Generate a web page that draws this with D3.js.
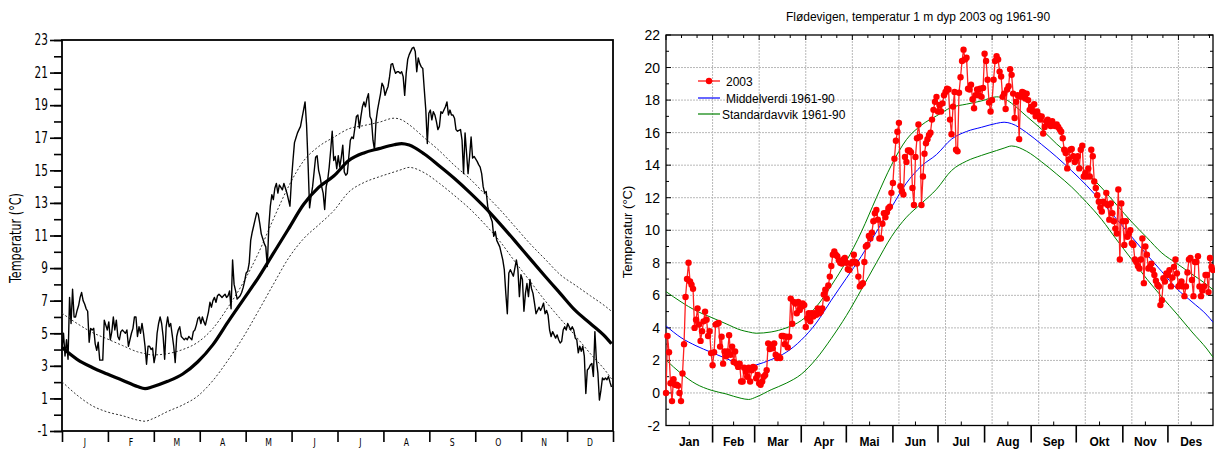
<!DOCTYPE html>
<html>
<head>
<meta charset="utf-8">
<script src="https://cdn.jsdelivr.net/npm/d3@7"></script>
<style>
  html, body { margin: 0; padding: 0; background: #fff; }
  svg { display: block; }
</style>
</head>
<body>
<svg id="chart" width="1215" height="450"></svg>
<script>
// ---- climatology 1961-90 (day 0 = 1 January) ----
const climDay = [0,10,20,30,40,50,55,60,70,80,90,100,110,120,130,140,150,160,170,180,
  190,200,210,220,225,230,240,250,260,270,280,290,300,310,320,330,340,350,360,364];
const climMean = [4.12,3.4,2.9,2.5,2.12,1.73,1.6,1.72,2.05,2.5,3.25,4.3,5.7,7.05,8.4,9.9,11.4,12.9,13.95,14.65,
  15.6,16.07,16.33,16.57,16.64,16.55,16.0,15.27,14.5,13.65,12.74,11.73,10.67,9.58,8.5,7.45,6.4,5.6,4.78,4.35];
const climUpper = [6.23,5.6,5.05,4.65,4.25,3.86,3.75,3.67,3.75,4.0,4.45,5.3,6.6,8.1,9.9,12.0,14.0,15.57,16.46,17.03,
  17.55,17.75,17.95,18.2,18.1,17.8,17.0,16.2,15.3,14.5,13.55,12.6,11.55,10.5,9.55,8.6,7.95,7.3,6.65,6.35];
const climLower = [2.03,1.2,0.55,0.17,-0.06,-0.33,-0.4,-0.25,0.2,0.6,1.15,2.1,3.35,4.75,6.35,8.0,9.6,10.8,11.65,12.52,
  13.67,14.25,14.6,14.9,15.05,15.18,14.85,14.2,13.45,12.65,11.7,10.65,9.4,8.2,7.0,5.9,4.85,3.75,2.7,2.2];

// ---- daily temperatures, left diagram (1 Jan .. 31 Dec) ----
const dailyLeft = [
  4.0,5.0,3.6,4.6,3.4,7.2,5.6,7.7,6.0,6.0,
  6.4,6.7,7.2,7.5,7.0,6.8,6.5,6.35,4.45,5.3,
  5.2,5.3,4.35,3.95,4.45,3.35,3.35,3.35,5.8,5.5,
  5.2,5.7,4.6,5.1,6.0,5.2,5.8,4.8,4.6,5.1,
  5.2,5.1,5.0,5.2,4.2,4.6,5.0,5.3,6.0,6.0,
  4.8,5.4,5.0,5.6,5.0,4.2,3.1,4.2,4.2,4.0,
  4.1,3.2,3.7,5.0,5.6,6.0,5.6,4.8,3.4,5.4,
  6.0,5.4,5.6,4.9,4.2,3.2,4.8,5.2,5.4,4.8,
  4.7,4.6,4.7,4.6,4.8,4.7,4.6,5.1,5.2,5.5,
  5.9,6.0,5.6,6.0,5.7,5.5,5.9,6.3,6.9,6.6,
  7.0,7.2,6.9,7.3,7.4,7.3,7.2,7.3,7.4,7.2,
  7.3,7.6,6.5,9.5,8.0,7.6,7.1,7.2,7.3,7.5,
  7.8,8.2,8.7,8.8,9.3,10.7,11.2,11.6,12.0,12.4,
  12.3,11.75,11.1,10.8,10.5,10.3,9.1,11.55,12.8,13.5,
  13.2,13.9,14.2,13.6,14.1,13.95,13.8,14.2,13.9,13.6,
  13.2,12.8,14.4,15.6,16.7,17.0,17.3,17.5,17.7,18.2,
  18.7,19.2,17.8,15.4,12.7,13.4,14.0,14.9,15.8,15.9,
  15.0,14.6,14.0,13.6,12.6,14.0,14.4,15.2,16.25,17.4,
  15.6,15.85,15.1,15.9,15.2,15.8,16.55,14.9,14.7,14.8,
  15.85,16.85,17.05,16.95,17.6,18.3,18.4,17.6,18.3,18.9,
  19.2,18.9,19.4,19.7,18.3,18.1,16.85,16.25,18.0,18.7,
  19.2,19.7,20.35,20.15,19.6,19.9,20.15,20.75,21.5,21.55,
  21.2,20.95,21.05,21.05,20.95,21.05,20.75,19.6,20.95,21.8,
  22.1,22.3,22.5,22.55,22.3,21.05,21.9,21.55,21.35,21.25,
  19.95,18.7,16.65,18.5,18.7,18.1,18.6,18.4,18.0,17.5,
  17.7,18.6,18.5,18.7,18.9,19.2,18.4,18.7,18.4,18.4,
  18.2,17.5,17.4,17.45,17.5,16.85,14.8,17.3,16.05,14.8,
  15.85,17.05,15.75,15.85,15.7,15.55,15.35,15.2,14.8,14.0,
  13.6,13.7,12.8,12.35,12.1,11.85,10.95,11.25,10.7,10.5,
  10.3,9.9,9.5,8.9,7.45,6.2,8.7,8.9,8.7,8.5,
  9.0,9.5,8.9,7.25,8.6,8.3,6.35,7.45,8.05,7.25,
  8.3,7.75,7.45,6.85,6.2,6.4,6.6,6.4,6.6,6.85,
  6.2,6.4,6.1,5.2,4.8,5.1,4.9,4.7,4.9,4.6,
  4.4,4.5,5.2,5.4,5.2,5.6,5.4,5.2,5.4,5.2,
  4.7,4.6,3.8,4.2,3.9,4.2,3.6,1.3,2.75,2.85,
  3.05,3.15,2.35,5.1,3.35,2.55,0.9,1.5,2.25,2.15,
  2.25,2.15,2.35,2.0,1.7
];

// ---- daily temperatures 2003, 1 m depth (1 Jan .. 31 Dec) ----
const temp2003 = [
  0,3.5,2.5,0.6,-0.5,0.85,0.5,0.5,0.45,0.0,
  -0.5,1.2,3.0,5.9,7.0,8.0,6.85,6.65,6.4,4.0,
  4.5,5.2,4.2,3.2,3.8,4.4,5.0,4.5,3.5,3.8,
  2.45,1.7,2.5,4.2,4.25,4.3,2.85,3.45,1.8,2.55,
  2.25,2.55,3.55,2.35,2.85,1.9,2.55,1.8,1.6,1.8,
  0.7,0.7,1.55,1.3,1.0,1.55,0.7,1.4,1.6,1.55,
  0.9,1.1,0.6,0.5,0.7,1.0,1.1,1.4,3.05,2.7,
  2.95,2.75,3.05,2.35,2.15,2.25,2.15,3.5,3.5,3.0,
  3.45,2.8,3.45,5.8,4.25,5.6,5.5,4.9,5.6,5.1,
  5.3,5.5,5.4,4.05,4.6,4.9,4.4,4.9,4.7,4.9,
  4.8,5.2,4.9,5.0,5.2,6.05,6.35,5.8,6.6,7.15,
  7.8,8.5,8.7,8.5,8.4,8.15,8.0,7.95,8.2,8.3,
  8.0,7.6,7.55,7.95,8.05,8.5,8.05,7.95,7.15,6.55,
  6.65,6.75,8.05,9.0,9.1,9.65,9.5,9.85,10.55,11.05,
  11.25,10.65,9.5,9.5,10.4,11.05,10.8,11.1,11.35,11.45,
  12.3,12.9,14.4,15.5,16.05,16.6,12.7,12.4,12.2,14.5,
  14.2,14.9,14.9,14.8,12.6,11.55,14.5,15.65,16.5,15.75,
  11.55,13.3,14.7,15.35,15.6,15.85,16.0,16.8,17.4,17.9,
  18.2,17.3,17.7,17.3,17.8,18.3,18.5,18.7,18.65,16.8,
  15.9,17.6,18.5,14.95,14.85,18.45,19.4,20.4,21.1,20.5,
  20.6,18.7,18.65,18.95,18.05,17.5,18.3,18.65,18.3,18.7,
  18.2,18.75,20.85,20.4,19.25,17.85,17.3,18.0,19.25,20.4,
  20.7,20.5,19.75,19.45,18.2,18.4,17.45,18.65,18.85,19.9,
  19.55,18.4,16.9,17.9,18.3,15.6,18.2,18.5,18.45,18.1,
  18.4,18.0,17.4,17.6,17.3,17.75,17.0,17.3,17.05,16.8,
  17.0,15.95,16.35,16.7,16.8,16.5,16.4,16.7,16.45,16.4,
  16.5,16.35,16.2,16.05,15.65,14.95,14.75,13.8,14.35,14.95,
  15.0,14.55,14.2,14.4,14.55,13.8,14.95,15.2,13.3,13.5,
  13.3,13.8,13.3,14.95,14.55,13.0,12.6,12.15,11.75,11.4,
  11.15,11.75,11.65,12.3,11.55,10.65,11.65,11.05,10.55,10.1,
  9.8,12.5,8.2,11.65,10.55,9.1,10.55,9.6,9.8,10.0,
  9.2,9.1,8.2,8.05,7.8,7.65,8.2,9.5,6.75,9.0,
  8.5,7.65,7.75,7.95,7.55,7.25,6.9,6.65,6.55,5.4,
  5.7,7.05,6.85,7.35,7.25,7.55,6.55,7.1,7.75,8.2,
  7.35,6.55,6.65,6.85,6.55,5.95,6.55,7.4,8.2,8.3,
  6.95,5.95,8.05,8.05,8.4,6.55,5.95,6.3,6.55,7.25,
  7.25,6.2,8.3,7.75,7.55
];

// ---- axis labels ----
const monthStart = [0,31,59,90,120,151,181,212,243,273,304,334,365];
const monthNames = ["Jan","Feb","Mar","Apr","Mai","Jun","Jul","Aug","Sep","Okt","Nov","Des"];
const monthInitials = ["J","F","M","A","M","J","J","A","S","O","N","D"];
const yTicksLeft = [-1,1,3,5,7,9,11,13,15,17,19,21,23];
const yTicksRight = [-2,0,2,4,6,8,10,12,14,16,18,20,22];
const titleRight = "Flødevigen, temperatur 1 m dyp 2003 og 1961-90";
const axisTitle = "Temperatur (°C)";
const legendItems = ["2003", "Middelverdi 1961-90", "Standardavvik 1961-90"];

const svg = d3.select("#chart");
const narrow = "'DejaVu Sans Condensed','Liberation Sans Narrow','Liberation Sans',sans-serif";
const sans = "'Liberation Sans',Arial,Helvetica,sans-serif";
const squeeze = 0.78; // horizontal compression for the condensed lettering

// ======================= left diagram =======================
(function () {
  const x = d3.scaleLinear().domain([0, 365]).range([62, 613]);
  const y = d3.scaleLinear().domain([-1, 23]).range([431, 40]);
  const g = svg.append("g");

  // minor / major ticks on the temperature axis
  const minor = d3.axisLeft(y).tickValues(d3.range(-1, 24, 1)).tickSize(8).tickFormat("");
  g.append("g").attr("transform", `translate(${x(0)},0)`).call(minor)
    .call(s => s.select(".domain").remove())
    .call(s => s.selectAll("line").attr("stroke-width", 1.6));
  const major = d3.axisLeft(y).tickValues(yTicksLeft).tickSize(12).tickPadding(2)
    .tickFormat(d => String(d));
  g.append("g").attr("transform", `translate(${x(0)},0)`).call(major)
    .call(s => s.select(".domain").remove())
    .call(s => s.selectAll("line").attr("stroke-width", 1.6))
    .call(s => s.selectAll("text")
      .attr("font-family", narrow).attr("font-size", 15).attr("fill", "#000")
      .attr("x", -14 / squeeze).attr("transform", `scale(${squeeze},1)`));

  // month division ticks
  const monthTicks = d3.range(0, 13).map(i => i * 365 / 12);
  const xa = d3.axisBottom(x).tickValues(monthTicks).tickSize(11).tickFormat("");
  g.append("g").attr("transform", `translate(0,${y(-1)})`).call(xa)
    .call(s => s.select(".domain").remove())
    .call(s => s.selectAll("line").attr("stroke-width", 1.6));
  g.selectAll("text.mon").data(monthInitials).join("text")
    .attr("class", "mon")
    .attr("transform", (d, i) => `translate(${x((i + 0.5) * 365 / 12)},445.5) scale(${squeeze},1)`)
    .attr("text-anchor", "middle")
    .attr("font-family", narrow).attr("font-size", 11)
    .attr("fill", "#000")
    .text(d => d);

  // frame
  g.append("rect")
    .attr("x", x(0)).attr("y", y(23))
    .attr("width", x(365) - x(0)).attr("height", y(-1) - y(23))
    .attr("fill", "none").attr("stroke", "#000").attr("stroke-width", 1.8);

  g.append("text")
    .attr("transform", `translate(21,238) rotate(-90) scale(${squeeze},1)`)
    .attr("text-anchor", "middle")
    .attr("font-family", narrow).attr("font-size", 16)
    .text(axisTitle);

  const clim = (arr) => d3.line().curve(d3.curveMonotoneX)
    .x((d, i) => x(climDay[i])).y(d => y(d))(arr);

  g.append("path").attr("d", clim(climUpper)).attr("fill", "none")
    .attr("stroke", "#333").attr("stroke-width", 1).attr("stroke-dasharray", "2,2");
  g.append("path").attr("d", clim(climLower)).attr("fill", "none")
    .attr("stroke", "#333").attr("stroke-width", 1).attr("stroke-dasharray", "2,2");
  g.append("path").attr("d", clim(climMean)).attr("fill", "none")
    .attr("stroke", "#000").attr("stroke-width", 3.2);

  const line = d3.line().x((d, i) => x(i)).y(d => y(d));
  g.append("path").attr("d", line(dailyLeft)).attr("fill", "none")
    .attr("stroke", "#000").attr("stroke-width", 1.4).attr("stroke-linejoin", "round");
})();

// ======================= right diagram =======================
(function () {
  const x = d3.scaleLinear().domain([0, 364]).range([666, 1213]);
  const y = d3.scaleLinear().domain([-2, 22]).range([425.5, 35]);
  const g = svg.append("g");
  const [x0, x1] = x.range();
  const [y0, y1] = y.range();

  // grid
  const gridDays = d3.range(31, 364, 31);
  g.selectAll("line.vg").data(gridDays).join("line").attr("class", "vg")
    .attr("x1", d => x(d)).attr("x2", d => x(d)).attr("y1", y1).attr("y2", y0)
    .attr("stroke", "#b8b8b8").attr("stroke-width", 1).attr("stroke-dasharray", "2,1");
  g.selectAll("line.hg").data(yTicksRight.slice(1, -1)).join("line").attr("class", "hg")
    .attr("x1", x0).attr("x2", x1).attr("y1", d => y(d)).attr("y2", d => y(d))
    .attr("stroke", "#b8b8b8").attr("stroke-width", 1).attr("stroke-dasharray", "2,1");

  // inner ticks on all four sides
  const yMinor = d3.range(-2, 23, 1);
  g.selectAll("line.lt").data(yMinor).join("line").attr("class", "lt")
    .attr("x1", x0).attr("x2", d => x0 + (d % 2 === 0 ? 5 : 3))
    .attr("y1", d => y(d)).attr("y2", d => y(d)).attr("stroke", "#000");
  g.selectAll("line.rt").data(yMinor).join("line").attr("class", "rt")
    .attr("x1", x1).attr("x2", d => x1 - (d % 2 === 0 ? 5 : 3))
    .attr("y1", d => y(d)).attr("y2", d => y(d)).attr("stroke", "#000");
  const topTicks = d3.range(0, 364, 31 / 3);
  g.selectAll("line.tt").data(topTicks).join("line").attr("class", "tt")
    .attr("x1", d => x(d)).attr("x2", d => x(d))
    .attr("y1", y1).attr("y2", (d, i) => y1 + (i % 3 === 0 ? 5 : 3)).attr("stroke", "#000");
  const midMonth = d3.range(12).map(i => (monthStart[i] + monthStart[i + 1]) / 2);
  g.selectAll("line.mt").data(midMonth).join("line").attr("class", "mt")
    .attr("x1", d => x(d)).attr("x2", d => x(d))
    .attr("y1", y0).attr("y2", y0 - 4).attr("stroke", "#000");
  g.selectAll("line.bt").data(monthStart.slice(1, -1)).join("line").attr("class", "bt")
    .attr("x1", d => x(d)).attr("x2", d => x(d))
    .attr("y1", y0).attr("y2", y0 + 17).attr("stroke", "#000").attr("stroke-width", 1.6);

  // frame
  g.append("rect").attr("x", x0).attr("y", y1).attr("width", x1 - x0).attr("height", y0 - y1)
    .attr("fill", "none").attr("stroke", "#000").attr("stroke-width", 1.3);

  // labels
  g.selectAll("text.yl").data(yTicksRight).join("text").attr("class", "yl")
    .attr("x", x0 - 6).attr("y", d => y(d) + 5)
    .attr("text-anchor", "end").attr("font-family", sans).attr("font-size", 14)
    .text(d => String(d));
  g.selectAll("text.ml").data(monthNames).join("text").attr("class", "ml")
    .attr("x", (d, i) => x(midMonth[i])).attr("y", 446)
    .attr("text-anchor", "middle").attr("font-family", sans).attr("font-size", 12)
    .attr("font-weight", "bold").text(d => d);
  g.append("text").attr("x", 918).attr("y", 21).attr("text-anchor", "middle")
    .attr("font-family", sans).attr("font-size", 12).text(titleRight);
  g.append("text")
    .attr("transform", `translate(632,232) rotate(-90)`)
    .attr("text-anchor", "middle").attr("font-family", sans).attr("font-size", 13)
    .text(axisTitle);

  // climatology
  const clim = (arr) => d3.line().curve(d3.curveMonotoneX)
    .x((d, i) => x(climDay[i])).y(d => y(d))(arr);
  g.append("path").attr("d", clim(climUpper)).attr("fill", "none").attr("stroke", "#008000").attr("stroke-width", 1);
  g.append("path").attr("d", clim(climLower)).attr("fill", "none").attr("stroke", "#008000").attr("stroke-width", 1);
  g.append("path").attr("d", clim(climMean)).attr("fill", "none").attr("stroke", "#0000ff").attr("stroke-width", 1);

  // 2003 observations
  const line = d3.line().x((d, i) => x(i)).y(d => y(d));
  g.append("path").attr("d", line(temp2003)).attr("fill", "none")
    .attr("stroke", "#ff2020").attr("stroke-width", 1.3);
  g.selectAll("circle.obs").data(temp2003).join("circle").attr("class", "obs")
    .attr("cx", (d, i) => x(i)).attr("cy", d => y(d)).attr("r", 3.2).attr("fill", "#ff0000");

  // legend
  const leg = g.append("g");
  const legColors = ["#ff0000", "#0000ff", "#008000"];
  const legY = [81, 98, 114];
  const legTextX = [726, 726, 722];
  legendItems.forEach((t, i) => {
    leg.append("line").attr("x1", 698).attr("x2", 720).attr("y1", legY[i]).attr("y2", legY[i])
      .attr("stroke", legColors[i]).attr("stroke-width", 1.2);
    if (i === 0) leg.append("circle").attr("cx", 709).attr("cy", legY[i]).attr("r", 3.2).attr("fill", legColors[i]);
    leg.append("text").attr("x", legTextX[i]).attr("y", legY[i] + 4.5)
      .attr("font-family", sans).attr("font-size", 12).text(t);
  });
})();
</script>
</body>
</html>
